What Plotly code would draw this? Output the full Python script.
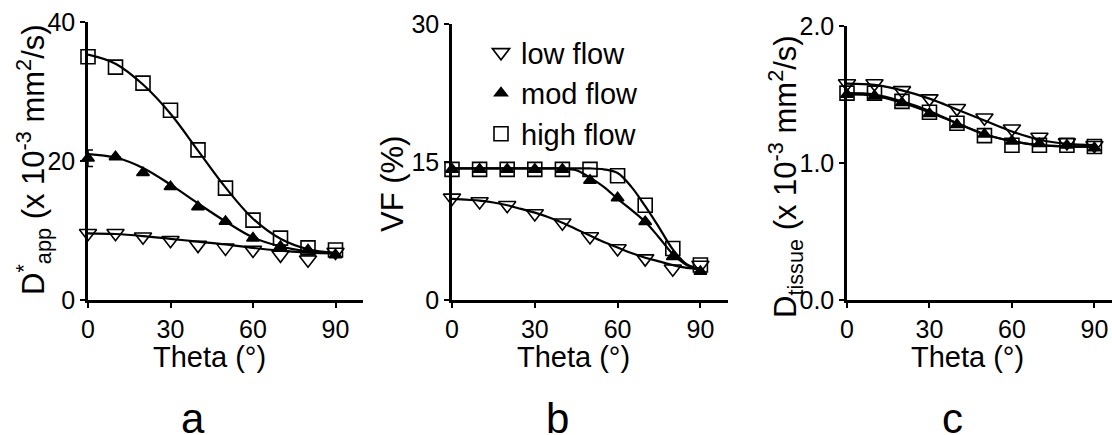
import plotly.graph_objects as go

theta = [0, 10, 20, 30, 40, 50, 60, 70, 80, 90]

# Panel a: D*app (x 10^-3 mm^2/s)
a_low = [9.6, 9.6, 9.1, 8.6, 7.9, 7.5, 7.2, 6.5, 5.8, 6.9]
a_mod = [20.4, 20.6, 18.3, 16.3, 13.4, 11.3, 8.9, 7.7, 7.2, 6.5]
a_mod_err = [1.2, 0, 0, 0, 0, 0, 0, 0, 0, 0]
a_high = [35.0, 33.5, 31.2, 27.3, 21.6, 16.1, 11.5, 8.9, 7.5, 7.2]
a_fit_low = [9.6, 9.5, 9.2, 8.8, 8.4, 8.0, 7.5, 7.1, 6.8, 6.7]
a_fit_mod = [21.0, 20.5, 19.0, 16.6, 13.9, 11.3, 9.0, 7.7, 7.0, 6.7]
a_fit_high = [35.3, 34.0, 31.0, 26.8, 21.5, 16.2, 11.7, 8.8, 7.3, 6.8]

# Panel b: VF (%)
b_low = [11.1, 10.7, 10.3, 9.4, 8.4, 6.9, 5.6, 4.5, 3.4, 3.8]
b_mod = [14.2, 14.2, 14.2, 14.2, 14.2, 13.0, 11.1, 8.5, 4.7, 3.1]
b_high = [14.2, 14.2, 14.2, 14.2, 14.2, 14.2, 13.5, 10.3, 5.6, 3.8]
theta_fine = [0, 5, 10, 15, 20, 25, 30, 35, 40, 45, 50, 55, 60, 65, 70, 75, 80, 85, 90]
b_fit_low = [11.0, 10.9, 10.8, 10.6, 10.3, 9.9, 9.5, 9.0, 8.4, 7.7, 7.0, 6.3, 5.7, 5.1, 4.6, 4.2, 3.8, 3.5, 3.4]
b_fit_mod = [14.3, 14.3, 14.3, 14.3, 14.3, 14.3, 14.3, 14.3, 14.3, 14.1, 13.3, 12.3, 11.0, 9.8, 8.5, 6.8, 5.0, 3.8, 3.2]
b_fit_high = [14.3, 14.3, 14.3, 14.3, 14.3, 14.3, 14.3, 14.3, 14.3, 14.3, 14.3, 14.2, 13.8, 12.3, 10.2, 7.9, 5.5, 3.9, 3.4]

# Panel c: D_tissue (x 10^-3 mm^2/s)
c_low = [1.58, 1.58, 1.53, 1.47, 1.40, 1.33, 1.25, 1.19, 1.15, 1.13]
c_mod = [1.50, 1.49, 1.44, 1.36, 1.28, 1.21, 1.16, 1.14, 1.13, 1.11]
c_high = [1.51, 1.51, 1.45, 1.37, 1.29, 1.20, 1.13, 1.13, 1.13, 1.12]
c_fit_low = [1.58, 1.57, 1.53, 1.47, 1.39, 1.31, 1.23, 1.17, 1.14, 1.13]
c_fit_mod = [1.50, 1.49, 1.44, 1.37, 1.29, 1.21, 1.16, 1.13, 1.12, 1.12]
c_fit_high = [1.51, 1.50, 1.45, 1.38, 1.29, 1.21, 1.16, 1.13, 1.12, 1.12]

series_names = ["low flow", "mod flow", "high flow"]
x_ticks = [0, 30, 60, 90]
panel_letters = ["a", "b", "c"]
x_title = "Theta (°)"
y_titles = ["D<sup>*</sup><sub>app</sub> (x 10<sup>-3</sup> mm<sup>2</sup>/s)",
            "VF (%)",
            "D<sub>tissue</sub> (x 10<sup>-3</sup> mm<sup>2</sup>/s)"]

FONT = "Liberation Sans, Arial, sans-serif"
BLACK = "black"

# page margin is removed below, so the figure fills the window exactly
W, H = 1112, 435


def xp(X):
    return X / W


def yp(Y):
    return 1 - Y / H


fig = go.Figure()

sym = {"low flow": "triangle-down-open", "mod flow": "triangle-up", "high flow": "square-open"}
msize = {"low flow": 15, "mod flow": 11, "high flow": 14}

panels = [
    ("x", "y", theta, [a_fit_low, a_fit_mod, a_fit_high], [a_low, a_mod, a_high]),
    ("x2", "y2", theta_fine, [b_fit_low, b_fit_mod, b_fit_high], [b_low, b_mod, b_high]),
    ("x3", "y3", theta, [c_fit_low, c_fit_mod, c_fit_high], [c_low, c_mod, c_high]),
]

for pi, (xa, ya, fx, fits, datas) in enumerate(panels):
    for name, fy in zip(series_names, fits):
        fig.add_trace(go.Scatter(x=fx, y=fy, mode="lines", xaxis=xa, yaxis=ya,
                                 line=dict(color=BLACK, width=2.2, shape="spline", smoothing=1.0),
                                 showlegend=False, cliponaxis=False, hoverinfo="skip"))
    for name, dy in zip(series_names, datas):
        err = None
        if pi == 0 and name == "mod flow":
            err = dict(type="data", array=a_mod_err, visible=True, color=BLACK, thickness=1.5, width=5)
        fig.add_trace(go.Scatter(x=theta, y=dy, mode="markers", xaxis=xa, yaxis=ya,
                                 marker=dict(symbol=sym[name], size=msize[name], color=BLACK,
                                             line=dict(color=BLACK, width=1.6)),
                                 error_y=err, name=name, legendgroup=name,
                                 showlegend=(pi == 1), cliponaxis=False))

xdoms = [[xp(88), xp(363)], [xp(452), xp(728)], [xp(847), 1.0]]
ydoms = [[yp(300), yp(22)], [yp(300), yp(24)], [yp(300), yp(26)]]
xranges = [[0, 100], [0, 100], [0, 96.4]]
yconf = [
    dict(range=[0, 40], tickvals=[0, 20, 40], ticktext=["0", "20", "40"]),
    dict(range=[0, 30], tickvals=[0, 15, 30], ticktext=["0", "15", "30"]),
    dict(range=[0, 2], tickvals=[0, 1, 2], ticktext=["0.0", "1.0", "2.0"]),
]

axis_common = dict(showgrid=False, zeroline=False, showline=True, linecolor=BLACK, linewidth=2.5,
                   ticks="outside", ticklen=5, tickwidth=2, tickcolor=BLACK, automargin=False,
                   ticklabeloverflow="allow",
                   tickfont=dict(family=FONT, size=25, color=BLACK))

for i in range(3):
    sx = "" if i == 0 else str(i + 1)
    fig.layout["xaxis" + sx] = dict(domain=xdoms[i], range=xranges[i], anchor="y" + sx,
                                    tickvals=x_ticks, ticktext=[str(v) for v in x_ticks],
                                    **axis_common)
    yc = yconf[i]
    fig.layout["yaxis" + sx] = dict(domain=ydoms[i], range=yc["range"], anchor="x" + sx,
                                    tickvals=yc["tickvals"], ticktext=yc["ticktext"],
                                    **axis_common)

# x-axis titles (centred on the 0-90 tick span)
for i in range(3):
    sx = "" if i == 0 else str(i + 1)
    fig.add_annotation(x=44, y=yp(357), xref="x" + sx, yref="paper", text=x_title,
                       showarrow=False, font=dict(family=FONT, size=29, color=BLACK),
                       xanchor="center", yanchor="middle")

# y-axis titles
ytitle_pos = [(33, 160), (392, 184), (786, 177)]
for (X, Y), t in zip(ytitle_pos, y_titles):
    fig.add_annotation(x=xp(X), y=yp(Y), xref="paper", yref="paper", text=t, textangle=-90,
                       showarrow=False, font=dict(family=FONT, size=31, color=BLACK),
                       xanchor="center", yanchor="middle")

# panel letters
letter_x = [193, 557, 952]
for X, letter in zip(letter_x, panel_letters):
    fig.add_annotation(x=xp(X), y=yp(418), xref="paper", yref="paper", text=letter,
                       showarrow=False, font=dict(family=FONT, size=42, color=BLACK),
                       xanchor="center", yanchor="middle")

fig.update_layout(
    width=W, height=H,
    margin=dict(l=0, r=0, t=0, b=0),
    paper_bgcolor="white", plot_bgcolor="white",
    showlegend=True,
    legend=dict(x=481 / W, y=1 - 27 / H, xanchor="left", yanchor="top",
                font=dict(family=FONT, size=29, color=BLACK), bgcolor="rgba(0,0,0,0)",
                traceorder="grouped", tracegroupgap=0, itemwidth=30),
)

fig.write_html("out.html",
               config={"displayModeBar": False},
               post_script="document.body.style.margin='0';"
                           "document.documentElement.style.overflow='hidden';"
                           "document.body.style.overflow='hidden';")
